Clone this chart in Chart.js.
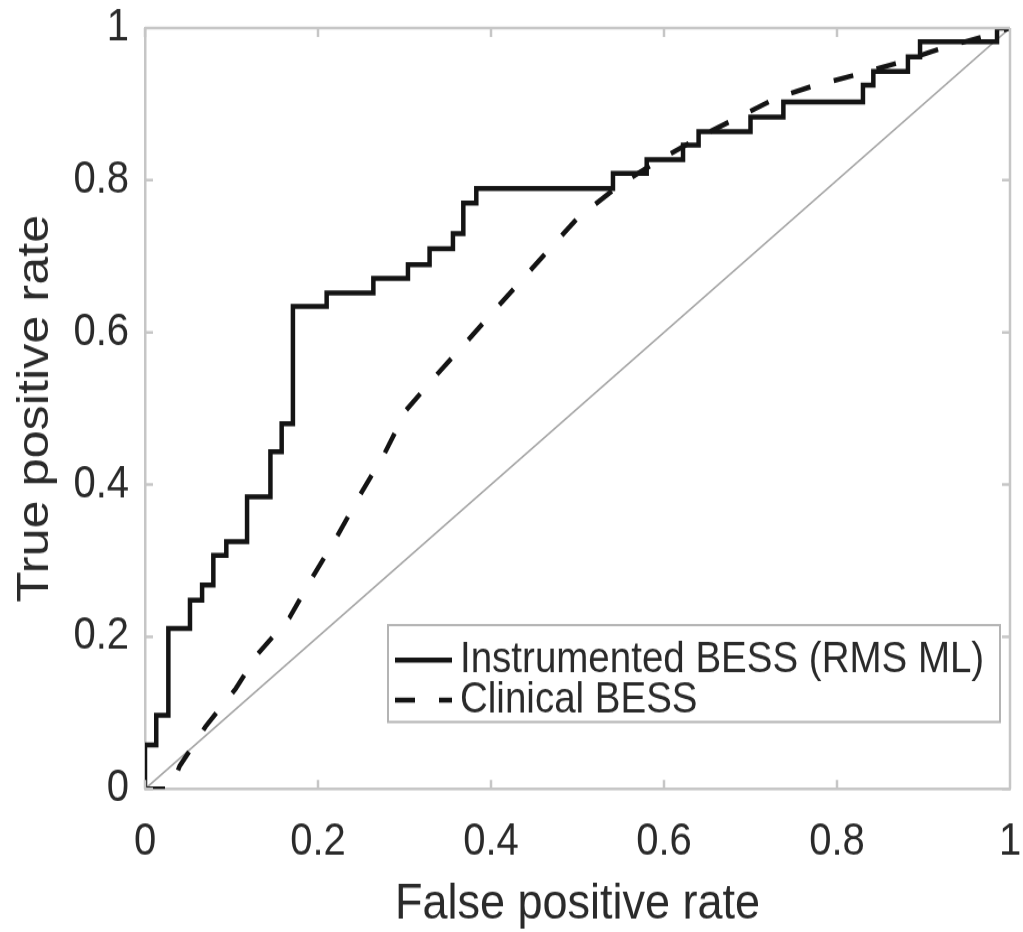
<!DOCTYPE html>
<html>
<head>
<meta charset="utf-8">
<script src="https://cdn.jsdelivr.net/npm/chart.js@4"></script>
<style>
  html, body { margin: 0; padding: 0; background: #ffffff; overflow: hidden; }
  #wrap {
    position: absolute; left: 0; top: 0;
    width: 1023px; height: 832px;
    transform: scaleY(1.12019); transform-origin: 0 0;
  }
</style>
</head>
<body>
<div id="wrap"><canvas id="roc"></canvas></div>
<script>
// ROC of the instrumented (RMS, machine-learning) score: step curve
const instrumentedFpr = [0, 0, 0.013, 0.013, 0.027, 0.027, 0.052, 0.052, 0.066, 0.066, 0.079, 0.079,
  0.094, 0.094, 0.118, 0.118, 0.145, 0.145, 0.158, 0.158, 0.171, 0.171, 0.210, 0.210, 0.264, 0.264,
  0.304, 0.304, 0.329, 0.329, 0.356, 0.356, 0.368, 0.368, 0.383, 0.383, 0.541, 0.541, 0.580, 0.580,
  0.622, 0.622, 0.640, 0.640, 0.700, 0.700, 0.738, 0.738, 0.830, 0.830, 0.842, 0.842, 0.882, 0.882,
  0.896, 0.896, 0.985, 0.985, 1];
const instrumentedTpr = [0, 0.058, 0.058, 0.097, 0.097, 0.211, 0.211, 0.248, 0.248, 0.268, 0.268, 0.307,
  0.307, 0.325, 0.325, 0.384, 0.384, 0.443, 0.443, 0.480, 0.480, 0.634, 0.634, 0.652, 0.652, 0.671,
  0.671, 0.689, 0.689, 0.710, 0.710, 0.730, 0.730, 0.770, 0.770, 0.789, 0.789, 0.809, 0.809, 0.827,
  0.827, 0.846, 0.846, 0.864, 0.864, 0.883, 0.883, 0.903, 0.903, 0.925, 0.925, 0.943, 0.943, 0.962,
  0.962, 0.982, 0.982, 1, 1];

// ROC of the clinical BESS error score
const clinicalFpr = [0, 0.030, 0.040, 0.070, 0.105, 0.130, 0.167, 0.195, 0.223, 0.250, 0.277, 0.302,
  0.337, 0.372, 0.408, 0.460, 0.500, 0.550, 0.600, 0.650, 0.690, 0.730, 0.770, 0.820, 0.870, 0.920,
  0.970, 1];
const clinicalTpr = [0, 0, 0.030, 0.082, 0.132, 0.177, 0.225, 0.281, 0.334, 0.389, 0.441, 0.498,
  0.544, 0.588, 0.634, 0.700, 0.750, 0.795, 0.830, 0.862, 0.885, 0.908, 0.923, 0.938, 0.954, 0.973,
  0.989, 1];

// chance line
const chanceFpr = [0, 1];
const chanceTpr = [0, 1];

const tickValues = [0, 0.2, 0.4, 0.6, 0.8, 1];
const tickLabels = ['0', '0.2', '0.4', '0.6', '0.8', '1'];
const seriesLabels = ['Instrumented BESS (RMS ML)', 'Clinical BESS'];
const xTitle = 'False positive rate';
const yTitle = 'True positive rate';

const FONT = '"Liberation Sans", Arial, Helvetica, sans-serif';
const INK = '#2a2a2a';
const FRAME = '#c6c6c6';

const toPoints = (xs, ys) => xs.map((x, i) => ({ x: x, y: ys[i] }));
const labelFor = v => tickLabels[tickValues.indexOf(v)] ?? String(v);

// top/right frame lines and inward tick marks on all four sides
const frameBox = {
  id: 'frameBox',
  afterDatasetsDraw(chart) {
    const { ctx, chartArea: a, scales: { x, y } } = chart;
    ctx.save();
    ctx.strokeStyle = FRAME;
    ctx.lineWidth = 2.5;
    ctx.beginPath();
    ctx.moveTo(a.left, a.top); ctx.lineTo(a.right, a.top);
    ctx.moveTo(a.right, a.top); ctx.lineTo(a.right, a.bottom);
    const len = 8;
    tickValues.forEach(v => {
      const px = x.getPixelForValue(v);
      ctx.moveTo(px, a.bottom); ctx.lineTo(px, a.bottom - len);
      ctx.moveTo(px, a.top); ctx.lineTo(px, a.top + len);
      const py = y.getPixelForValue(v);
      ctx.moveTo(a.left, py); ctx.lineTo(a.left + len, py);
      ctx.moveTo(a.right, py); ctx.lineTo(a.right - len, py);
    });
    ctx.stroke();
    ctx.restore();
  }
};

// boxed legend inside the lower right of the plot
const innerLegend = {
  id: 'innerLegend',
  afterDraw(chart) {
    const { ctx } = chart;
    const box = { left: 388, right: 1000, top: 558, bottom: 644.5 };
    const rows = [589.2, 625];
    ctx.save();
    ctx.fillStyle = '#ffffff';
    ctx.fillRect(box.left, box.top, box.right - box.left, box.bottom - box.top);
    ctx.strokeStyle = '#b4b4b4';
    ctx.lineWidth = 2;
    ctx.strokeRect(box.left, box.top, box.right - box.left, box.bottom - box.top);
    const entries = chart.data.datasets.filter(d => d.label);
    entries.forEach((d, i) => {
      const yy = rows[i];
      ctx.strokeStyle = d.borderColor;
      ctx.lineWidth = d.borderWidth;
      ctx.setLineDash(d.borderDash || []);
      ctx.beginPath();
      ctx.moveTo(395, yy); ctx.lineTo(452, yy);
      ctx.stroke();
      ctx.setLineDash([]);
      ctx.fillStyle = INK;
      ctx.font = '38.5px ' + FONT;
      ctx.textBaseline = 'middle';
      ctx.textAlign = 'left';
      ctx.fillText(d.label, 460, yy);
    });
    ctx.restore();
  }
};

new Chart(document.getElementById('roc'), {
  type: 'line',
  data: {
    datasets: [
      {
        label: seriesLabels[0],
        data: toPoints(instrumentedFpr, instrumentedTpr),
        borderColor: '#141414', borderWidth: 4.5, pointRadius: 0,
        borderCapStyle: 'butt', borderJoinStyle: 'miter', tension: 0, fill: false
      },
      {
        label: seriesLabels[1],
        data: toPoints(clinicalFpr, clinicalTpr),
        borderColor: '#141414', borderWidth: 4.5, pointRadius: 0,
        borderDash: [20, 24], borderCapStyle: 'butt', tension: 0, fill: false
      },
      {
        label: '',
        data: toPoints(chanceFpr, chanceTpr),
        borderColor: '#a6a6a6', borderWidth: 1.6, pointRadius: 0, tension: 0, fill: false
      }
    ]
  },
  options: {
    responsive: true,
    maintainAspectRatio: false,
    animation: false,
    devicePixelRatio: 1,
    layout: { padding: { top: 25, right: 13, left: 0, bottom: 0 } },
    plugins: { legend: { display: false }, tooltip: { enabled: false } },
    scales: {
      x: {
        type: 'linear', min: 0, max: 1,
        afterBuildTicks: s => { s.ticks = tickValues.map(v => ({ value: v })); },
        afterFit: s => { s.height = 832 - 704.3; s.paddingLeft = 0; s.paddingRight = 0; },
        grid: { display: false, drawTicks: false },
        border: { display: true, color: FRAME, width: 2.5 },
        ticks: {
          padding: 28, color: INK, maxRotation: 0, autoSkip: false,
          font: { family: FONT, size: 40, lineHeight: 1 },
          callback: v => labelFor(v)
        },
        title: {
          display: true, text: xTitle, color: INK,
          font: { family: FONT, size: 45, lineHeight: 1 },
          padding: { top: 0, bottom: 1.5 }
        }
      },
      y: {
        type: 'linear', min: 0, max: 1,
        afterBuildTicks: s => { s.ticks = tickValues.map(v => ({ value: v })); },
        afterFit: s => { s.width = 145; s.paddingTop = 0; s.paddingBottom = 0; },
        grid: { display: false, drawTicks: false },
        border: { display: true, color: FRAME, width: 2.5 },
        ticks: {
          padding: 16, color: INK, autoSkip: false,
          font: { family: FONT, size: 40, lineHeight: 1 },
          callback: v => labelFor(v)
        },
        title: {
          display: true, text: yTitle, color: INK,
          font: { family: FONT, size: 45, lineHeight: 1 },
          padding: { top: 13.5, bottom: 0 }
        }
      }
    }
  },
  plugins: [frameBox, innerLegend]
});
</script>
</body>
</html>
